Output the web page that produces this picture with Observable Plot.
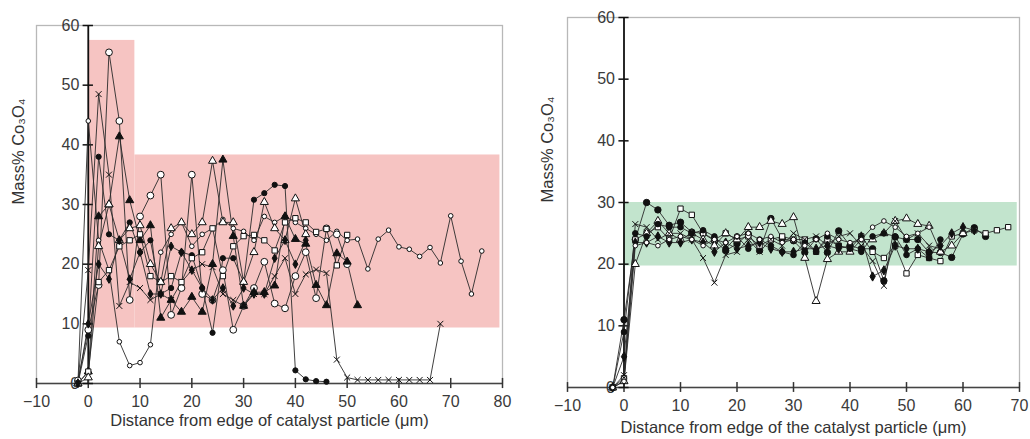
<!DOCTYPE html>
<html><head><meta charset="utf-8">
<script src="https://cdn.jsdelivr.net/npm/d3@7"></script>
<script src="https://cdn.jsdelivr.net/npm/@observablehq/plot@0.6"></script>
<style>
body{margin:0;background:#fff;}
#wrap{position:relative;width:1030px;height:439px;font-family:"Liberation Sans",Arial,sans-serif;}
#left{position:absolute;left:0;top:0}
#right{position:absolute;left:520px;top:0}
</style></head><body><div id="wrap"><div id="left"></div><div id="right"></div></div>
<script>
// ---------- LEFT PANEL DATA ----------
const leftX = [-2,0,2,4,6,8,10,12,14,16,18,20,22,24,26,28,30,32,34,36,38,40,42,44,46,48,50,52,54,56,58,60,62,64,66,68,70,72,74,76];
const leftSmallOpenCircle = [0,44,24,19,7,3,3.5,6.5,22,25,27,23,25,26,27.5,26,25.5,24,28,27,28,27,26,25,24,25.5,24,24.2,19.2,24.2,25.7,22.9,22.5,21.3,22.8,20.2,28.1,20.5,15,22.2];
const leftOpenCircle = [0.5,9,16.5,55.5,44,14,28,31.5,35,11.5,16,35,15,14,19,9,13,16,20.4,13.4,12.6,18,22,14.3,26,25,20];
const leftCross = [0,19,48.5,35,13,17,16,14,15,14,17,19,20,19.5,15,14,13,15,15,18,21,15,18.3,19.1,18.5,4,1,0.6,0.6,0.6,0.6,0.6,0.6,0.6,0.6,10];
const leftFilledCircle = [0,8,38,25,24,27,22,24,15,16,22,21.5,16,8.5,21,21,17,30.8,31.9,33.3,33.1,2.2,0.7,0.4,0.3];
const leftFilledTriangle = [0,2,28,30,41.4,30.7,24,26.5,11,14,12,14.5,12,20,37.5,24.7,13,15.3,15.3,16.4,28,24.2,23.4,16.5,13.1,21.8,20.4,13.1];
const leftOpenSquare = [0,2,17,19,23,24,25,18,17,18,17,21,22,26,18,23,24.7,24.9,24,22.3,27,27.7,27,25.4,25.9,19.8,24.9];
const leftOpenTriangle = [0,1,23,30,24,26,26.5,20,17,26,27,25,27,37.3,27,27,17,22,30.4,26,24,31,25];
const leftFilledDiamond = [0,10,20,17.5,24,17.5,22,15,15,23,22,19,16,14,16,13,16,15,15,21,24,20,24];
const leftXTicks = [-10,0,10,20,30,40,50,60,70,80];
const leftYTicks = [0,10,20,30,40,50,60];
const leftShadeX1 = [0, 9];
const leftShadeX2 = [9, 79.5];
const leftShadeY1 = [9.3, 9.3];
const leftShadeY2 = [57.5, 38.3];

// ---------- RIGHT PANEL DATA ----------
const rightX = [-2,0,2,4,6,8,10,12,14,16,18,20,22,24,26,28,30,32,34,36,38,40,42,44,46,48,50,52,54,56,58,60,62,64,66,68];
const rightFilledCircle = [0,11,24,30,28.8,26.3,26.8,25.2,25,23.8,22.2,23.3,24.9,22.2,27.4,24.1,23.8,21.9,24.1,21.9,25.4,23,22.5,22.5,17.3,24.4,24,24,21.9,21.9,21.1,24.9,25.9,24.5];
const rightOpenSquare = [0,1.5,24,25,26,24,29,28,25,24,25,24,24.5,23,24,24.5,24,24,22,24,23,22.5,24.5,22,21,23,18.5,21.5,21,20.5,24.5,25,25.5,25,25.5,26];
const rightOpenTriangle = [0,1,20,25,27,25,24,25,24,23,25,24,26,26,27,26.5,27.6,21,14,20.8,22,22,24,24,25,27,27.4,26.5,26.2,22,23,25];
const rightCross = [0,2,26.5,26,24,25,25,24,21,17,21.5,22,24,22,24,23,25,24,24.5,23,24.5,25,23,20.5,16.5,27,24,25,23,22.5];
const rightFilledDiamond = [0,5,23.5,23.5,24.5,23.5,23.5,24,23.5,22,23.5,22.5,23,23.5,22.5,22,22,22.5,22.5,23,22.5,23,24.5,18,19,23,22.5,22.5,22,23,25,26,25.5];
const rightFilledCircle2 = [0,9,25,24.5,26.5,26,26,25,25.5,24.5,22.5,24.5,22.5,24,23,22,21.5,23.5,22,24.5,23,22.5,22,24.5,25,24.5,21.5,22.5,21,24];
const rightSmallOpenCircle = [0,1,23,23.5,23,24,24.5,24,23,24,23.5,24.5,25,24,24.5,23.5,24,23,24,25,24,23.5,24,26,27,26,24.5,25,26];
const rightXTicks = [-10,0,10,20,30,40,50,60,70];
const rightYTicks = [0,10,20,30,40,50,60];
const rightShadeX1 = [0];
const rightShadeX2 = [69.6];
const rightShadeY1 = [19.7];
const rightShadeY2 = [30];

const yTitle = "Mass% Co\u2083O\u2084";
const leftXTitle = "Distance from edge of catalyst particle (\u03bcm)";
const rightXTitle = "Distance from edge of the catalyst particle (\u03bcm)";

// marker styles (kept separate from data)
const leftStyles = [
  {symbol:"circle", r:2.3, fill:"white"},
  {symbol:"circle", r:3.4, fill:"white"},
  {symbol:"times", r:2.8, fill:"none"},
  {symbol:"circle", r:2.6, fill:"#111"},
  {symbol:"triangle", r:3.0, fill:"#111"},
  {symbol:"square", r:3.0, fill:"white"},
  {symbol:"triangle", r:3.0, fill:"white"},
  {symbol:"diamond", r:2.6, fill:"#111"}
];
const rightStyles = [
  {symbol:"circle", r:3.2, fill:"#111"},
  {symbol:"square", r:3.0, fill:"white"},
  {symbol:"triangle", r:3.0, fill:"white"},
  {symbol:"times", r:2.8, fill:"none"},
  {symbol:"diamond", r:2.8, fill:"#111"},
  {symbol:"circle", r:2.8, fill:"#111"},
  {symbol:"circle", r:2.3, fill:"white"}
];

function fmt(d){ return d < 0 ? "\u2212" + Math.abs(d) : String(d); }

function panel(o){
  const marks = [];
  const shadeIdx = o.sx1.map((_, i) => i);
  marks.push(Plot.rect(shadeIdx, {x1: i => o.sx1[i], x2: i => o.sx2[i], y1: i => o.sy1[i], y2: i => o.sy2[i], fill: o.shadeFill}));
  marks.push(Plot.frame({stroke: "#b8b8b8", strokeWidth: 1.3}));
  marks.push(Plot.ruleY([0], {stroke: "#444", strokeWidth: 1.6}));
  marks.push(Plot.ruleX([0], {y1: 0, y2: 60, stroke: "#111", strokeWidth: 1.8}));
  marks.push(Plot.ruleX(o.xTicks, {x: d => d, y1: -o.tk, y2: o.tk, stroke: "#333", strokeWidth: 1.5}));
  marks.push(Plot.ruleY(o.yTicks, {y: d => d, x1: -o.tkx, x2: o.tkx, stroke: "#111", strokeWidth: 1.5}));
  marks.push(Plot.text(o.xTicks, {x: d => d, y: 0, dy: 18, text: fmt, fontSize: 16, fill: "#3a3a3a"}));
  marks.push(Plot.text(o.yTicks, {x: 0, y: d => d, dx: -9, textAnchor: "end", text: fmt, fontSize: 16, fill: "#3a3a3a"}));
  marks.push(Plot.text([yTitle], {frameAnchor: "left", dx: o.ytDx, rotate: -90, fontSize: 16.5, fill: "#333"}));
  marks.push(Plot.text([o.xTitle], {frameAnchor: "bottom", dy: o.xtDy, fontSize: 16.5, fill: "#333"}));
  o.series.forEach((vals, si) => {
    const rows = vals.map((v, i) => ({x: o.xs[i], y: v}));
    marks.push(Plot.line(rows, {x: "x", y: "y", stroke: "#2a2a2a", strokeWidth: 0.9}));
  });
  o.series.forEach((vals, si) => {
    const rows = vals.map((v, i) => ({x: o.xs[i], y: v}));
    const st = o.styles[si];
    marks.push(Plot.dot(rows, {x: "x", y: "y", symbol: st.symbol, r: st.r, fill: st.fill, stroke: "#111", strokeWidth: 1}));
  });
  return Plot.plot({
    width: o.width, height: 439,
    marginLeft: o.ml, marginRight: o.mr, marginTop: o.mt, marginBottom: o.mb,
    x: {domain: o.xDomain, axis: null},
    y: {domain: [0, 60], axis: null},
    style: {fontFamily: "'Liberation Sans', Arial, sans-serif", background: "transparent", overflow: "visible"},
    marks
  });
}

document.getElementById("left").appendChild(panel({
  xs: leftX,
  series: [leftSmallOpenCircle, leftOpenCircle, leftCross, leftFilledCircle, leftFilledTriangle, leftOpenSquare, leftOpenTriangle, leftFilledDiamond],
  styles: leftStyles,
  xDomain: [-10, 80], xTicks: leftXTicks, yTicks: leftYTicks,
  sx1: leftShadeX1, sx2: leftShadeX2, sy1: leftShadeY1, sy2: leftShadeY2, shadeFill: "#f6c4c2",
  xTitle: leftXTitle,
  width: 520, ml: 36, mr: 18, mt: 25, mb: 56,
  tk: 0.85, tkx: 1.0, ytDx: -18, xtDy: 42
}));
document.getElementById("right").appendChild(panel({
  xs: rightX,
  series: [rightFilledCircle, rightOpenSquare, rightOpenTriangle, rightCross, rightFilledDiamond, rightFilledCircle2, rightSmallOpenCircle],
  styles: rightStyles,
  xDomain: [-10, 70], xTicks: rightXTicks, yTicks: rightYTicks,
  sx1: rightShadeX1, sx2: rightShadeX2, sy1: rightShadeY1, sy2: rightShadeY2, shadeFill: "#c2e4cd",
  xTitle: rightXTitle,
  width: 510, ml: 47, mr: 11, mt: 17, mb: 52,
  tk: 0.8, tkx: 0.9, ytDx: -20, xtDy: 45
}));
</script></body></html>
